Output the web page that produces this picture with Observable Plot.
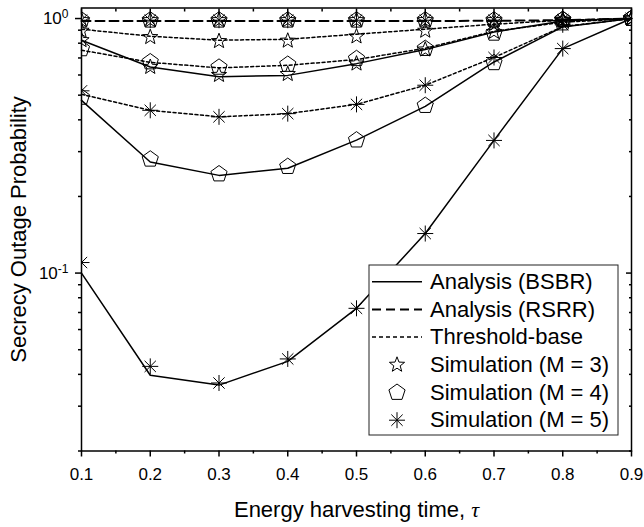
<!DOCTYPE html>
<html>
<head>
<meta charset="utf-8">
<script src="https://cdn.jsdelivr.net/npm/d3@7"></script>
<script src="https://cdn.jsdelivr.net/npm/@observablehq/plot@0.6"></script>
<style>
  html, body { margin: 0; padding: 0; background: white; }
  #chart { position: relative; width: 644px; height: 527px; }
</style>
</head>
<body>
<div id="chart"></div>
<script>
// ---- data ----
const tau = [0.1, 0.2, 0.3, 0.4, 0.5, 0.6, 0.7, 0.8, 0.9];
const xMajor = [0.1, 0.2, 0.3, 0.4, 0.5, 0.6, 0.7, 0.8, 0.9];
const xMinor = [0.15, 0.25, 0.35, 0.45, 0.55, 0.65, 0.75, 0.85];
const yMajor = [0.1, 1];
const yMinor = [0.02, 0.03, 0.04, 0.05, 0.06, 0.07, 0.08, 0.09, 0.2, 0.3, 0.4, 0.5, 0.6, 0.7, 0.8, 0.9];
const yTickLabels = ["10^-1", "10^0"];

// Analysis (BSBR)
const bsbrM3 = [0.822, 0.645, 0.590, 0.598, 0.665, 0.755, 0.886, 0.978, 1.0];
const bsbrM4 = [0.477, 0.273, 0.242, 0.258, 0.333, 0.452, 0.675, 0.927, 1.0];
const bsbrM5 = [0.100, 0.0397, 0.0363, 0.045, 0.0727, 0.143, 0.332, 0.762, 1.0];
// Analysis (RSRR) - same for all M
const rsrr = [0.978, 0.978, 0.978, 0.978, 0.978, 0.978, 0.980, 0.985, 1.0];
// Threshold-base
const thrM3 = [0.908, 0.852, 0.822, 0.829, 0.868, 0.908, 0.950, 0.985, 1.0];
const thrM4 = [0.751, 0.673, 0.640, 0.655, 0.690, 0.764, 0.891, 0.967, 1.0];
const thrM5 = [0.504, 0.436, 0.411, 0.423, 0.460, 0.547, 0.703, 0.930, 1.0];
// Simulation points
const simBsbrM3 = [0.822, 0.645, 0.600, 0.605, 0.665, 0.755, 0.886, 0.978, 1.0];
const simBsbrM4 = [0.490, 0.280, 0.245, 0.262, 0.333, 0.455, 0.670, 0.960, 1.0];
const simBsbrM5 = [0.110, 0.043, 0.037, 0.046, 0.0727, 0.143, 0.332, 0.762, 1.0];
const simRsrr = [0.985, 0.985, 0.985, 0.985, 0.985, 0.985, 0.985, 0.990, 1.0];
const simThrM3 = [0.895, 0.845, 0.815, 0.818, 0.850, 0.895, 0.950, 0.985, 1.0];
const simThrM4 = [0.760, 0.675, 0.643, 0.660, 0.695, 0.762, 0.875, 0.990, 1.0];
const simThrM5 = [0.520, 0.436, 0.411, 0.423, 0.460, 0.547, 0.703, 0.945, 1.0];

const legendLabels = ["Analysis (BSBR)", "Analysis (RSRR)", "Threshold-base",
  "Simulation (M = 3)", "Simulation (M = 4)", "Simulation (M = 5)"];

// ---- custom symbols ----
const starSym = {
  draw(ctx, size) {
    const r = Math.sqrt(size / Math.PI), ri = r * 0.42;
    for (let i = 0; i < 10; i++) {
      const a = -Math.PI / 2 + i * Math.PI / 5, rr = i % 2 ? ri : r;
      const x = rr * Math.cos(a), y = rr * Math.sin(a);
      if (i === 0) ctx.moveTo(x, y); else ctx.lineTo(x, y);
    }
    ctx.closePath();
  }
};
const pentSym = {
  draw(ctx, size) {
    const r = Math.sqrt(size / Math.PI);
    for (let i = 0; i < 5; i++) {
      const a = -Math.PI / 2 + i * 2 * Math.PI / 5;
      const x = r * Math.cos(a), y = r * Math.sin(a);
      if (i === 0) ctx.moveTo(x, y); else ctx.lineTo(x, y);
    }
    ctx.closePath();
  }
};
const astSym = {
  draw(ctx, size) {
    const r = Math.sqrt(size / Math.PI);
    for (let i = 0; i < 4; i++) {
      const a = i * Math.PI / 4;
      ctx.moveTo(-r * Math.cos(a), -r * Math.sin(a));
      ctx.lineTo(r * Math.cos(a), r * Math.sin(a));
    }
  }
};

const rows = arr => tau.map((t, i) => ({t, v: arr[i]}));
const solid = {stroke: "black", strokeWidth: 1.5};
const dashed = {stroke: "black", strokeWidth: 2, strokeDasharray: "9,5"};
const dotted = {stroke: "black", strokeWidth: 1.5, strokeDasharray: "3,2.5"};
const line = (arr, st) => Plot.line(rows(arr), {x: "t", y: "v", ...st});
const dots = (arr, sym, r) => Plot.dot(rows(arr), {x: "t", y: "v", symbol: sym, r, stroke: "black", strokeWidth: 1, fill: "none", clip: true});

const chart = Plot.plot({
  width: 644,
  height: 527,
  marginLeft: 81,
  marginRight: 13,
  marginTop: 7.5,
  marginBottom: 76.5,
  style: {fontFamily: "'Liberation Sans', Arial, sans-serif", fontSize: "17px", color: "black", background: "white"},
  x: {domain: [0.1, 0.9]},
  y: {type: "log", domain: [0.02, 1.1]},
  marks: [
    line(bsbrM3, solid), line(bsbrM4, solid), line(bsbrM5, solid),
    line(rsrr, dashed),
    line(thrM3, dotted), line(thrM4, dotted), line(thrM5, dotted),
    dots(simBsbrM3, starSym, 8), dots(simThrM3, starSym, 8), dots(simRsrr, starSym, 8),
    dots(simBsbrM4, pentSym, 8.5), dots(simThrM4, pentSym, 8.5), dots(simRsrr, pentSym, 8.5),
    dots(simBsbrM5, astSym, 8), dots(simThrM5, astSym, 8), dots(simRsrr, astSym, 8),
    Plot.axisX({ticks: xMajor, tickSize: 6, tickPadding: 11, tickFormat: d => d.toFixed(1), label: null, strokeWidth: 1.5}),
    Plot.axisX({ticks: xMinor, tickSize: 3, tickFormat: () => "", label: null, strokeWidth: 1.5}),
    Plot.axisX({anchor: "top", ticks: xMajor, tickSize: -6, tickFormat: () => "", label: null, strokeWidth: 1.5}),
    Plot.axisX({anchor: "top", ticks: xMinor, tickSize: -3, tickFormat: () => "", label: null, strokeWidth: 1.5}),
    Plot.axisY({ticks: yMajor, tickSize: 6, tickPadding: 7, tickFormat: d => yTickLabels[yMajor.indexOf(d)], label: null, strokeWidth: 1.5}),
    Plot.axisY({ticks: yMinor, tickSize: 3, tickFormat: () => "", label: null, strokeWidth: 1.5}),
    Plot.axisY({anchor: "right", ticks: yMajor, tickSize: -6, tickFormat: () => "", label: null, strokeWidth: 1.5}),
    Plot.axisY({anchor: "right", ticks: yMinor, tickSize: -3, tickFormat: () => "", label: null, strokeWidth: 1.5}),
    Plot.frame({stroke: "black", strokeWidth: 1.5}),
    Plot.text(["Secrecy Outage Probability"], {frameAnchor: "left", dx: -63, rotate: -90, textAnchor: "middle", lineAnchor: "middle", text: d => d, fontSize: 22}),
    Plot.text(["Energy harvesting time, τ"], {frameAnchor: "bottom", dy: 59, textAnchor: "middle", lineAnchor: "middle", text: d => d, fontSize: 22})
  ]
});

document.getElementById("chart").appendChild(chart);
const svg = d3.select(chart);

// superscript tick labels
svg.selectAll("text").each(function () {
  const t = this.textContent;
  if (t === "10^0" || t === "10^-1") {
    const sel = d3.select(this);
    sel.text("10");
    sel.append("tspan").attr("dy", "-0.5em").attr("font-size", "12px").text(t === "10^0" ? "0" : "-1");
  }
  if (t === "Energy harvesting time, τ") {
    const sel = d3.select(this).style("white-space", "pre");
    sel.text("Energy harvesting time, ");
    sel.append("tspan").attr("font-family", "'Liberation Serif', 'DejaVu Serif', serif").attr("font-style", "italic").text("τ");
  }
});

// legend
const lg = svg.append("g").attr("font-family", "'Liberation Sans', Arial, sans-serif").attr("font-size", 22).attr("text-anchor", "start");
lg.append("rect").attr("x", 369).attr("y", 265).attr("width", 249).attr("height", 170)
  .attr("fill", "white").attr("stroke", "#222").attr("stroke-width", 1);
const rowY = i => 281.7 + i * 27.7;
const legStyles = [solid, dashed, {stroke: "black", strokeWidth: 1.5, strokeDasharray: "4,3"}];
legStyles.forEach((st, i) => {
  lg.append("line").attr("x1", 372).attr("x2", 422).attr("y1", rowY(i)).attr("y2", rowY(i))
    .attr("stroke", "black").attr("stroke-width", st.strokeWidth)
    .attr("stroke-dasharray", st.strokeDasharray || null);
});
[[starSym, 8], [pentSym, 8.5], [astSym, 8]].forEach(([sym, r], j) => {
  lg.append("path").attr("transform", `translate(397,${rowY(3 + j)})`)
    .attr("d", d3.symbol().type(sym).size(Math.PI * r * r)())
    .attr("fill", "none").attr("stroke", "black").attr("stroke-width", 1);
});
legendLabels.forEach((lab, i) => {
  lg.append("text").attr("x", 430).attr("y", rowY(i)).attr("dy", "0.33em").attr("text-anchor", "start").attr("fill", "black").text(lab);
});
</script>
</body>
</html>
